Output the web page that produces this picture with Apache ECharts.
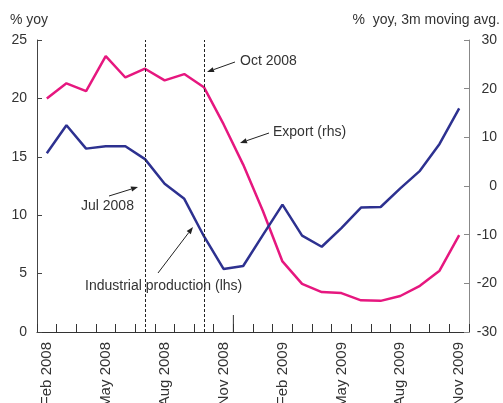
<!DOCTYPE html>
<html>
<head>
<meta charset="utf-8">
<script src="https://cdn.jsdelivr.net/npm/echarts@6/dist/echarts.min.js"></script>
<style>
  html, body { margin: 0; padding: 0; background: #fff; }
  #chart { width: 503px; height: 403px; }
</style>
</head>
<body>
<div id="chart"></div>
<script>
// months, Feb 2008 .. Nov 2009
var months = [
  'Feb 2008', 'Mar 2008', 'Apr 2008', 'May 2008', 'Jun 2008', 'Jul 2008',
  'Aug 2008', 'Sep 2008', 'Oct 2008', 'Nov 2008', 'Dec 2008', 'Jan 2009',
  'Feb 2009', 'Mar 2009', 'Apr 2009', 'May 2009', 'Jun 2009', 'Jul 2009',
  'Aug 2009', 'Sep 2009', 'Oct 2009', 'Nov 2009'
]
// industrial production, % yoy (lhs)
var industrial = [
  15.3, 17.7, 15.7, 15.9, 15.9, 14.8, 12.7, 11.4, 8.2, 5.4, 5.65,
  8.3, 10.9, 8.25, 7.3, 8.9, 10.65, 10.7, 12.3, 13.8, 16.1, 19.15
]
// export, % yoy 3m moving avg (rhs)
var exportRhs = [
  18.0, 21.1, 19.5, 26.7, 22.3, 24.1, 21.7, 23.0, 20.3, 12.7, 4.4,
  -5.1, -15.5, -20.1, -21.8, -22.0, -23.5, -23.6, -22.6, -20.5, -17.4, -10.1
]
// dates marked with a dashed line
var markedMonths = ['Jul 2008', 'Oct 2008']

var pink = '#e6177f'
var blue = '#2d3190'
var textColor = '#333'
var fontFamily = 'Liberation Sans, Arial, sans-serif'
var fs = 14

// small arrow: line from (x1,y1) to the tip (x2,y2) with a filled head
function arrow (x1, y1, x2, y2) {
  var ang = Math.atan2(y2 - y1, x2 - x1)
  var len = 7
  var w = 2.6
  var bx = x2 - len * Math.cos(ang)
  var by = y2 - len * Math.sin(ang)
  return [
    {
      type: 'line',
      shape: { x1: x1, y1: y1, x2: bx, y2: by },
      style: { stroke: '#222', lineWidth: 1 }
    },
    {
      type: 'polygon',
      shape: {
        points: [
          [x2, y2],
          [bx + w * Math.sin(ang), by - w * Math.cos(ang)],
          [bx - w * Math.sin(ang), by + w * Math.cos(ang)]
        ]
      },
      style: { fill: '#222' }
    }
  ]
}

function label (text, x, y, align) {
  return {
    type: 'text',
    x: x,
    y: y,
    style: {
      text: text,
      fill: textColor,
      font: fs + 'px ' + fontFamily,
      textAlign: align || 'left',
      textVerticalAlign: 'middle'
    }
  }
}

var chart = echarts.init(document.getElementById('chart'))

var graphics = [
  label('% yoy', 10, 20),
  label('%  yoy, 3m moving avg.', 500, 20, 'right'),
  label('Oct 2008', 240, 61),
  label('Export (rhs)', 273, 132),
  label('Jul 2008', 81, 206),
  label('Industrial production (lhs)', 85, 286)
]
  .concat(arrow(235, 62, 207, 72))
  .concat(arrow(269, 133, 240, 143))
  .concat(arrow(109, 196, 138, 187))
  .concat(arrow(158, 273, 193, 227))

var option = {
  animation: false,
  textStyle: { fontFamily: fontFamily },
  grid: { left: 37, right: 34, top: 40, bottom: 71, containLabel: false, outerBoundsMode: 'none' },
  xAxis: {
    type: 'category',
    data: months,
    boundaryGap: true,
    axisLine: { lineStyle: { color: '#333', width: 1 } },
    axisTick: { show: true, inside: true, length: 8, interval: 0, alignWithLabel: false, lineStyle: { color: '#333', width: 1 } },
    axisLabel: { interval: 2, rotate: 90, margin: 10, fontSize: 15, color: textColor },
    splitLine: { show: false }
  },
  yAxis: [
    {
      type: 'value',
      min: 0,
      max: 25,
      interval: 5,
      axisLine: { show: true, lineStyle: { color: '#444' } },
      axisTick: { show: true, inside: true, length: 5, lineStyle: { color: '#444' } },
      axisLabel: { fontSize: fs, color: textColor, margin: 10 },
      splitLine: { show: false }
    },
    {
      type: 'value',
      min: -30,
      max: 30,
      interval: 10,
      axisLine: { show: true, lineStyle: { color: '#888' } },
      axisTick: { show: true, inside: true, length: 5, lineStyle: { color: '#888' } },
      axisLabel: { fontSize: fs, color: textColor, margin: 28, align: 'right' },
      splitLine: { show: false }
    }
  ],
  series: [
    {
      name: 'Export (rhs)',
      type: 'line',
      yAxisIndex: 1,
      data: exportRhs,
      symbol: 'none',
      lineStyle: { color: pink, width: 2.5 },
      z: 3
    },
    {
      name: 'Industrial production (lhs)',
      type: 'line',
      yAxisIndex: 0,
      data: industrial,
      symbol: 'none',
      lineStyle: { color: blue, width: 2.5 },
      z: 3,
      markLine: {
        silent: true,
        symbol: 'none',
        label: { show: false },
        lineStyle: { color: '#222', type: [3, 2], width: 1 },
        data: markedMonths.map(function (m) { return { xAxis: m } })
      }
    }
  ],
  graphic: graphics
}

chart.setOption(option)

// taller tick between Nov and Dec 2008
var xNov = chart.convertToPixel({ xAxisIndex: 0 }, 'Nov 2008')
var xDec = chart.convertToPixel({ xAxisIndex: 0 }, 'Dec 2008')
var y0 = chart.convertToPixel({ yAxisIndex: 0 }, 0)
var xb = (xNov + xDec) / 2
chart.setOption({
  graphic: graphics.concat([{
    type: 'line',
    shape: { x1: xb, y1: y0 - 17, x2: xb, y2: y0 },
    style: { stroke: '#333', lineWidth: 1 }
  }])
})
</script>
</body>
</html>
